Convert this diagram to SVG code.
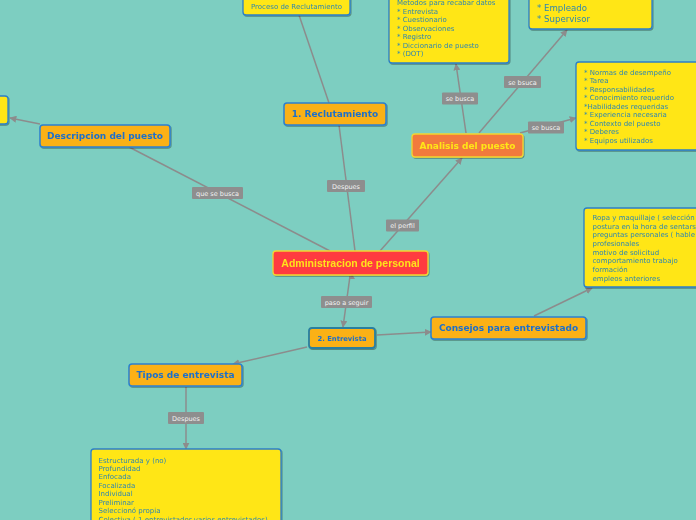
<svg xmlns="http://www.w3.org/2000/svg" width="696" height="520" viewBox="0 0 696 520">
<style>
.lnk{fill:none;stroke:#8c8c8c;stroke-width:1.5}
.lbl rect{fill:#8e8e8e}
.lbl text{font-family:"DejaVu Sans",sans-serif;font-size:6.5px;fill:#f2f2f2;text-anchor:middle}
.note rect{fill:#ffe617;stroke:#2b7fc8;stroke-width:1.3}
.note text{font-family:"DejaVu Sans",sans-serif;font-size:7px;fill:#2e86b0}
.sub rect{fill:#fbb117;stroke:#2c80d0;stroke-width:1.5}
.sub text{font-family:"DejaVu Sans",sans-serif;font-size:9px;font-weight:bold;fill:#1d6fcb;text-anchor:middle}
</style>
<defs>
<filter id="sh" x="-10%" y="-10%" width="120%" height="130%">
<feDropShadow dx="0.8" dy="1" stdDeviation="0.6" flood-color="#000" flood-opacity="0.35"/>
</filter>
<marker id="arr" viewBox="0 0 10 10" refX="9" refY="5" markerWidth="7" markerHeight="7" markerUnits="userSpaceOnUse" orient="auto">
<path d="M0,0 L10,5 L0,10 z" fill="#8c8c8c"/>
</marker>
</defs>
<rect width="696" height="520" fill="#7dcec1"/>

<g id="connectors">
<line class="lnk" x1="355" y1="251" x2="339" y2="125"/>
<line class="lnk" x1="330" y1="251" x2="129" y2="147"/>
<line class="lnk" x1="380" y1="251" x2="462" y2="158" marker-end="url(#arr)"/>
<line class="lnk" x1="40" y1="124" x2="10" y2="118" marker-end="url(#arr)"/>
<line class="lnk" x1="329" y1="103" x2="299" y2="15"/>
<line class="lnk" x1="466" y1="133" x2="456" y2="64" marker-end="url(#arr)"/>
<line class="lnk" x1="479" y1="133" x2="567" y2="30" marker-end="url(#arr)"/>
<line class="lnk" x1="520" y1="133" x2="576" y2="118" marker-end="url(#arr)"/>
<line class="lnk" x1="350" y1="276" x2="343" y2="327" marker-end="url(#arr)"/>
<path d="M352,274 L355,279 L349,279 z" fill="#8c8c8c"/>
<line class="lnk" x1="377" y1="335" x2="431" y2="332" marker-end="url(#arr)"/>
<line class="lnk" x1="534" y1="316" x2="592" y2="288" marker-end="url(#arr)"/>
<line class="lnk" x1="307" y1="347" x2="233" y2="364" marker-end="url(#arr)"/>
<line class="lnk" x1="186" y1="387" x2="186" y2="449" marker-end="url(#arr)"/>

<g class="lbl"><rect x="327" y="180" width="38" height="12" rx="1"/><text x="346" y="188.5">Despues</text></g>
<g class="lbl"><rect x="192" y="187" width="51" height="12" rx="1"/><text x="217.5" y="195.5">que se busca</text></g>
<g class="lbl"><rect x="386" y="219.5" width="33" height="12" rx="1"/><text x="402.5" y="228">el perfil</text></g>
<g class="lbl"><rect x="442" y="92.5" width="36" height="12" rx="1"/><text x="460" y="101">se busca</text></g>
<g class="lbl"><rect x="504" y="76" width="37" height="12" rx="1"/><text x="522.5" y="84.5">se bsuca</text></g>
<g class="lbl"><rect x="528" y="121.5" width="36" height="12" rx="1"/><text x="546" y="130">se busca</text></g>
<g class="lbl"><rect x="321" y="296" width="51" height="12" rx="1"/><text x="346.5" y="304.5">paso a seguir</text></g>
<g class="lbl"><rect x="168" y="412" width="36" height="12" rx="1"/><text x="186" y="420.5">Despues</text></g>
</g>

<g id="n-proceso" class="note" filter="url(#sh)">
<rect x="243" y="-10" width="107" height="25" rx="3"/>
<text x="296.5" y="9" text-anchor="middle">Proceso de Reclutamiento</text>
</g>

<g id="n-left" class="note" filter="url(#sh)">
<rect x="-40" y="96" width="48" height="28" rx="3"/>
</g>

<g id="n-metodos" class="note" filter="url(#sh)">
<rect x="389" y="-12" width="120" height="75" rx="3"/>
<text x="397" y="5.2">Metodos para recabar datos</text>
<text x="397" y="13.8">* Entrevista</text>
<text x="397" y="22.2">* Cuestionario</text>
<text x="397" y="30.8">* Observaciones</text>
<text x="397" y="39.2">* Registro</text>
<text x="397" y="47.8">* Diccionario de puesto</text>
<text x="397" y="56.2">* (DOT)</text>
</g>

<g id="n-empleado" class="note" filter="url(#sh)">
<rect x="529" y="-12" width="123" height="41" rx="3"/>
<text x="537" y="10.5" style="font-size:8.6px">* Empleado</text>
<text x="537" y="22" style="font-size:8.6px">* Supervisor</text>
</g>

<g id="n-normas" class="note" filter="url(#sh)">
<rect x="576" y="62" width="130" height="88" rx="3"/>
<text x="584" y="74.8">* Normas de desempeño</text>
<text x="584" y="83.3">* Tarea</text>
<text x="584" y="91.8">* Responsabilidades</text>
<text x="584" y="100.3">* Conocimiento requerido</text>
<text x="584" y="108.8">*Habilidades requeridas</text>
<text x="584" y="117.3">* Experiencia necesaria</text>
<text x="584" y="125.8">* Contexto del puesto</text>
<text x="584" y="134.3">* Deberes</text>
<text x="584" y="142.8">* Equipos utilizados</text>
</g>

<g id="n-ropa" class="note" filter="url(#sh)">
<rect x="584" y="208" width="130" height="79" rx="3"/>
<text x="592.5" y="220.2">Ropa y maquillaje ( selección</text>
<text x="592.5" y="228.6">postura en la hora de sentars</text>
<text x="592.5" y="237.2">preguntas personales ( hable</text>
<text x="592.5" y="245.8">profesionales</text>
<text x="592.5" y="254.6">motivo de solicitud</text>
<text x="592.5" y="263.3">comportamiento trabajo</text>
<text x="592.5" y="272">formación</text>
<text x="592.5" y="280.5">empleos anteriores</text>
</g>

<g id="n-tiposlist" class="note" filter="url(#sh)">
<rect x="91" y="449" width="190" height="80" rx="3"/>
<text x="98.5" y="462.5">Estructurada y (no)</text>
<text x="98.5" y="471.2">Profundidad</text>
<text x="98.5" y="479.2">Enfocada</text>
<text x="98.5" y="487.8">Focalizada</text>
<text x="98.5" y="496.2">Individual</text>
<text x="98.5" y="504.8">Preliminar</text>
<text x="98.5" y="513.2">Seleccionó propia</text>
<text x="98.5" y="521.5">Colectiva ( 1 entrevistador varios entrevistados)</text>
</g>

<g id="n-reclutamiento" class="sub" filter="url(#sh)">
<rect x="284" y="103" width="102" height="22" rx="3"/>
<text x="335" y="117.3">1. Reclutamiento</text>
</g>

<g id="n-descripcion" class="sub" filter="url(#sh)">
<rect x="40" y="125" width="130" height="22" rx="3"/>
<text x="105" y="139.3">Descripcion del puesto</text>
</g>

<g id="n-analisis" filter="url(#sh)">
<rect x="412" y="134" width="111" height="23" rx="3" fill="#f27a3e" stroke="#f2d631" stroke-width="1.3"/>
<text x="467.5" y="148.8" style="font-family:'DejaVu Sans',sans-serif;font-size:9px;font-weight:bold;fill:#ffe617;text-anchor:middle">Analisis del puesto</text>
</g>

<g id="n-admin" filter="url(#sh)">
<rect x="273" y="251" width="155" height="24" rx="3" fill="#ff3b40" stroke="#f2d631" stroke-width="1.3"/>
<text x="350.5" y="266.8" style="font-family:'Liberation Sans',Arial,sans-serif;font-size:10.5px;font-weight:bold;fill:#ffe31a;text-anchor:middle">Administracion de personal</text>
</g>

<g id="n-entrevista" class="sub" filter="url(#sh)">
<rect x="309" y="328" width="66" height="20" rx="3" style="stroke:#2a7fa0;stroke-width:1.8"/>
<text x="342" y="340.5" style="font-size:6.8px">2. Entrevista</text>
</g>

<g id="n-consejos" class="sub" filter="url(#sh)">
<rect x="431" y="317" width="155" height="22" rx="3"/>
<text x="508.5" y="331.3">Consejos para entrevistado</text>
</g>

<g id="n-tipos" class="sub" filter="url(#sh)">
<rect x="129" y="364" width="113" height="22" rx="3"/>
<text x="185.5" y="378.3">Tipos de entrevista</text>
</g>
</svg>
